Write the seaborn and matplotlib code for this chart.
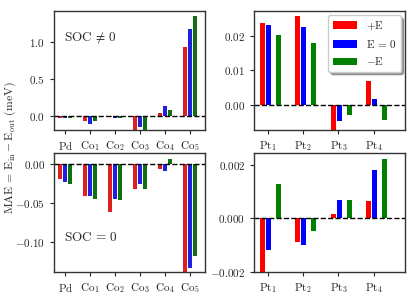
import numpy as np
import pandas as pd
import matplotlib
matplotlib.use('Agg')
import matplotlib.pyplot as plt
import seaborn as sns

# Werte
co_sites = ['Pd', 'Co1', 'Co2', 'Co3', 'Co4', 'Co5']
co_labels = [r'$\mathrm{Pd}$', r'$\mathrm{Co}_1$', r'$\mathrm{Co}_2$',
             r'$\mathrm{Co}_3$', r'$\mathrm{Co}_4$', r'$\mathrm{Co}_5$']
pt_sites = ['Pt1', 'Pt2', 'Pt3', 'Pt4']
pt_labels = [r'$\mathrm{Pt}_1$', r'$\mathrm{Pt}_2$', r'$\mathrm{Pt}_3$', r'$\mathrm{Pt}_4$']
fields = ['+E', 'E=0', '-E']
field_labels = [r'$+\mathrm{E}$', r'$\mathrm{E}\,=\,0$', r'$-\mathrm{E}$']
colors = ['red', 'blue', 'green']

# SOC != 0
co_soc_plus = [-0.03, -0.07, -0.005, -0.20, 0.05, 0.94]
co_soc_zero = [-0.03, -0.11, -0.02, -0.15, 0.14, 1.17]
co_soc_minus = [-0.02, -0.06, -0.02, -0.25, 0.09, 1.355]
pt_soc_plus = [0.0238, 0.0257, -0.0080, 0.0068]
pt_soc_zero = [0.0231, 0.0226, -0.0048, 0.0016]
pt_soc_minus = [0.0202, 0.0178, -0.0030, -0.0044]

# SOC = 0
co_nosoc_plus = [-0.020, -0.041, -0.062, -0.032, -0.0065, -0.150]
co_nosoc_zero = [-0.0235, -0.042, -0.045, -0.026, -0.010, -0.134]
co_nosoc_minus = [-0.0257, -0.045, -0.047, -0.032, 0.0064, -0.118]
pt_nosoc_plus = [-0.0025, -0.0009, 0.00016, 0.00064]
pt_nosoc_zero = [-0.00117, -0.0010, 0.00069, 0.00181]
pt_nosoc_minus = [0.00129, -0.00046, 0.00069, 0.0022]


def long_table(sites, *series):
    rows = []
    for field, vals in zip(fields, series):
        for s, v in zip(sites, vals):
            rows.append({'site': s, 'field': field, 'mae': v})
    return pd.DataFrame(rows)


def co_panel(ax, df):
    sns.barplot(data=df, x='site', y='mae', hue='field', order=co_sites,
                hue_order=fields, palette=colors, width=0.6, gap=0.2,
                linewidth=0, legend=False, ax=ax, errorbar=None)
    ax.set_xlabel('')
    ax.set_ylabel('')
    ax.set_xticks(range(len(co_sites)))
    ax.set_xticklabels(co_labels)
    ax.set_xlim(-0.45, 5.62)
    ax.axhline(0, color='k', ls='--', lw=1)


def pt_panel(ax, series):
    x = np.arange(len(pt_sites))
    offsets = [-0.15, 0.02, 0.30]
    for vals, off, c, lab in zip(series, offsets, colors, field_labels):
        ax.bar(x + off, vals, width=0.14, color=c, label=lab, linewidth=0)
    ax.set_xticks(x)
    ax.set_xticklabels(pt_labels)
    ax.set_xlim(-0.39, 3.89)
    ax.axhline(0, color='k', ls='--', lw=1)


sns.set_style('ticks')
plt.rcParams['font.family'] = 'serif'
plt.rcParams['font.serif'] = ['cmr10', 'DejaVu Serif']
plt.rcParams['mathtext.fontset'] = 'cm'
plt.rcParams['axes.formatter.use_mathtext'] = True
plt.rcParams['font.size'] = 8
plt.rcParams['xtick.labelsize'] = 8
plt.rcParams['ytick.labelsize'] = 8
plt.rcParams['axes.edgecolor'] = '0.2'
plt.rcParams['axes.linewidth'] = 1.0
plt.rcParams['xtick.major.size'] = 3
plt.rcParams['ytick.major.size'] = 3

fig, axes = plt.subplots(2, 2, figsize=(4.16, 2.96), dpi=100)
fig.subplots_adjust(left=0.130, right=0.974, top=0.963, bottom=0.081,
                    wspace=0.325, hspace=0.2)

# oben links
ax = axes[0, 0]
co_panel(ax, long_table(co_sites, co_soc_plus, co_soc_zero, co_soc_minus))
ax.set_ylim(-0.18, 1.42)
ax.set_yticks([0.0, 0.5, 1.0])
ax.text(0.065, 0.78, r'$\mathrm{SOC}\,\neq\,0$', transform=ax.transAxes,
        fontsize=9.5, va='center')

# oben rechts
ax = axes[0, 1]
pt_panel(ax, [pt_soc_plus, pt_soc_zero, pt_soc_minus])
ax.set_ylim(-0.0072, 0.0272)
ax.set_yticks([0.00, 0.01, 0.02])
ax.yaxis.set_major_formatter(matplotlib.ticker.FormatStrFormatter(r'$%.2f$'))
ax.legend(loc='upper right', fancybox=True, shadow=True, fontsize=8,
          handlelength=2.2, borderaxespad=0.4)

# unten links
ax = axes[1, 0]
co_panel(ax, long_table(co_sites, co_nosoc_plus, co_nosoc_zero, co_nosoc_minus))
ax.set_ylim(-0.139, 0.0132)
ax.set_yticks([-0.10, -0.05, 0.00])
ax.yaxis.set_major_formatter(matplotlib.ticker.FormatStrFormatter(r'$%.2f$'))
ax.text(0.065, 0.29, r'$\mathrm{SOC}\,=\,0$', transform=ax.transAxes,
        fontsize=9.5, va='center')

# unten rechts
ax = axes[1, 1]
pt_panel(ax, [pt_nosoc_plus, pt_nosoc_zero, pt_nosoc_minus])
ax.set_ylim(-0.002, 0.00242)
ax.set_yticks([-0.002, 0.000, 0.002])
ax.yaxis.set_major_formatter(matplotlib.ticker.FormatStrFormatter(r'$%.3f$'))

fig.text(0.025, 0.5, r'$\mathrm{MAE}\,=\,\mathrm{E}_{\mathrm{in}}-\mathrm{E}_{\mathrm{out}}\ \mathrm{(meV)}$',
         rotation=90, va='center', ha='center', fontsize=8.5)

fig.savefig('out.png', dpi=100)
